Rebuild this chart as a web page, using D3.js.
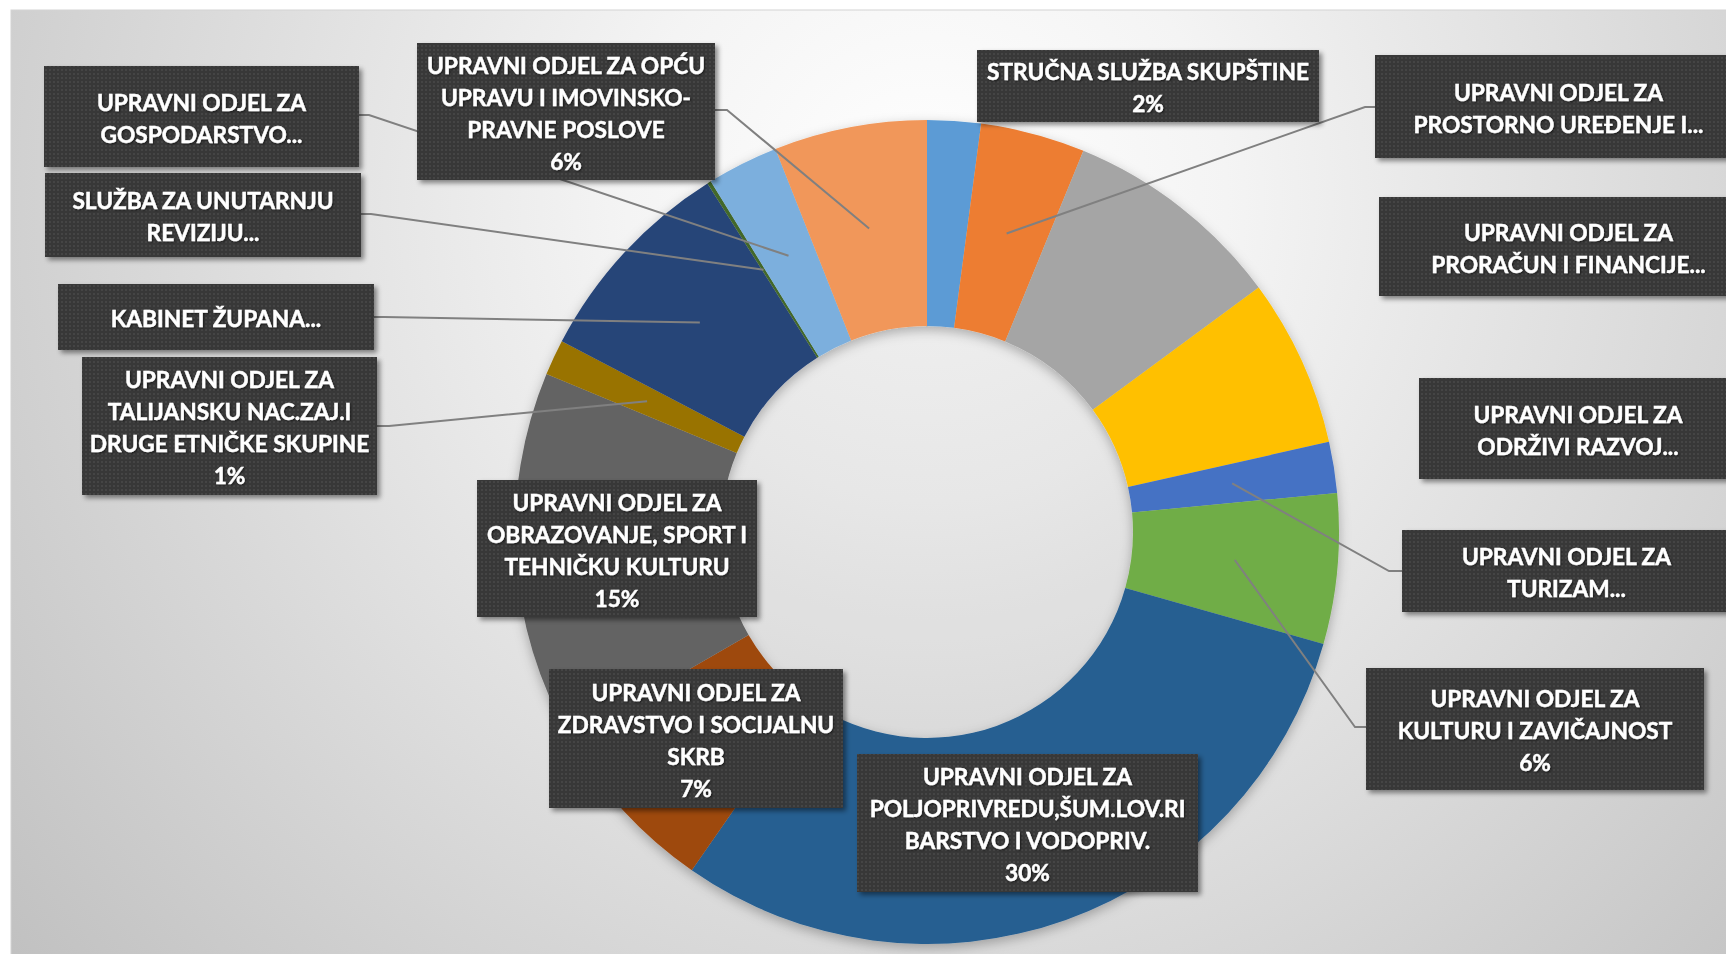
<!DOCTYPE html>
<html>
<head>
<meta charset="utf-8">
<script src="https://cdn.jsdelivr.net/npm/d3@7"></script>
<style>
  html, body { margin: 0; padding: 0; background: #ffffff; overflow: hidden; }
  svg { display: block; }
</style>
</head>
<body>
<svg id="chart" width="1726" height="954"></svg>
<script>
// ---------------- DATA ----------------
const categories = [
  "STRUČNA SLUŽBA SKUPŠTINE",
  "UPRAVNI ODJEL ZA PROSTORNO UREĐENJE I...",
  "UPRAVNI ODJEL ZA PRORAČUN I FINANCIJE...",
  "UPRAVNI ODJEL ZA ODRŽIVI RAZVOJ...",
  "UPRAVNI ODJEL ZA TURIZAM...",
  "UPRAVNI ODJEL ZA KULTURU I ZAVIČAJNOST",
  "UPRAVNI ODJEL ZA POLJOPRIVREDU,ŠUM.LOV.RIBARSTVO I VODOPRIV.",
  "UPRAVNI ODJEL ZA ZDRAVSTVO I SOCIJALNU SKRB",
  "UPRAVNI ODJEL ZA OBRAZOVANJE, SPORT I TEHNIČKU KULTURU",
  "UPRAVNI ODJEL ZA TALIJANSKU NAC.ZAJ.I DRUGE ETNIČKE SKUPINE",
  "KABINET ŽUPANA...",
  "SLUŽBA ZA UNUTARNJU REVIZIJU...",
  "UPRAVNI ODJEL ZA GOSPODARSTVO...",
  "UPRAVNI ODJEL ZA OPĆU UPRAVU I IMOVINSKO-PRAVNE POSLOVE"
];
// share of total (%)
const values = [2.1, 4.1, 8.7, 6.6, 2.0, 5.9, 30.3, 7.0, 14.6, 1.4, 8.4, 0.15, 2.8, 6.0];
// label text lines as they are wrapped in the picture
const labelLines = [
  ["STRUČNA SLUŽBA SKUPŠTINE"],
  ["UPRAVNI ODJEL ZA", "PROSTORNO UREĐENJE I..."],
  ["UPRAVNI ODJEL ZA", "PRORAČUN I FINANCIJE..."],
  ["UPRAVNI ODJEL ZA", "ODRŽIVI RAZVOJ..."],
  ["UPRAVNI ODJEL ZA", "TURIZAM..."],
  ["UPRAVNI ODJEL ZA", "KULTURU I ZAVIČAJNOST"],
  ["UPRAVNI ODJEL ZA", "POLJOPRIVREDU,ŠUM.LOV.RI", "BARSTVO I VODOPRIV."],
  ["UPRAVNI ODJEL ZA", "ZDRAVSTVO I SOCIJALNU", "SKRB"],
  ["UPRAVNI ODJEL ZA", "OBRAZOVANJE, SPORT I", "TEHNIČKU KULTURU"],
  ["UPRAVNI ODJEL ZA", "TALIJANSKU NAC.ZAJ.I", "DRUGE ETNIČKE SKUPINE"],
  ["KABINET ŽUPANA..."],
  ["SLUŽBA ZA UNUTARNJU", "REVIZIJU..."],
  ["UPRAVNI ODJEL ZA", "GOSPODARSTVO..."],
  ["UPRAVNI ODJEL ZA OPĆU", "UPRAVU I IMOVINSKO-", "PRAVNE POSLOVE"]
];
const showPercent = [true, false, false, false, false, true, true, true, true, true, false, false, false, true];

// ---------------- STYLE / LAYOUT ----------------
const colors = ["#5B9BD5", "#ED7D31", "#A5A5A5", "#FFC000", "#4472C4", "#70AD47",
                "#255E91", "#9E480E", "#636363", "#997300", "#264478", "#43682B",
                "#7CAFDD", "#F1975A"];
// label boxes: [x0, y0, x1, y1]
const boxes = [
  [977, 50, 1319, 122],
  [1375, 55, 1742, 158],
  [1379, 197, 1758, 296],
  [1419, 378, 1737, 479],
  [1402, 530, 1731, 612],
  [1366, 668, 1704, 790],
  [857, 754, 1198, 892],
  [549, 669, 843, 808],
  [477, 480, 757, 617],
  [82, 357, 377, 495],
  [58, 284, 374, 350],
  [45, 173, 361, 257],
  [44, 66, 359, 167],
  [417, 43, 715, 180]
];
// leader line anchors on the box edge: [x, y, stubDx] (null = no leader line)
const leaders = [
  null,
  [1375, 107, -10],
  null,
  null,
  [1402, 571, -13],
  [1366, 727, -11],
  null, null, null,
  [377, 426, 12],
  [374, 317, 10],
  [361, 214, 10],
  [359, 115, 10],
  [715, 110, 12]
];

const W = 1726, H = 954;
const cx = 927, cy = 532, rOuter = 412, rInner = 206;

const svg = d3.select("#chart");
const defs = svg.append("defs");

// background gradient
const bg = defs.append("radialGradient").attr("id", "bgGrad")
  .attr("gradientUnits", "userSpaceOnUse")
  .attr("cx", 927).attr("cy", 200).attr("r", 1200);
bg.append("stop").attr("offset", 0).attr("stop-color", "#ffffff");
bg.append("stop").attr("offset", 0.25).attr("stop-color", "#f4f4f4");
bg.append("stop").attr("offset", 1).attr("stop-color", "#c0c0c0");

// dotted texture for label boxes
const pat = defs.append("pattern").attr("id", "dots")
  .attr("width", 4).attr("height", 4).attr("patternUnits", "userSpaceOnUse");
pat.append("rect").attr("width", 4).attr("height", 4).attr("fill", "#383838");
pat.append("circle").attr("cx", 2).attr("cy", 2).attr("r", 0.9).attr("fill", "#4a4a4a");

const boxShadow = defs.append("filter").attr("id", "boxShadow")
  .attr("x", "-10%").attr("y", "-10%").attr("width", "130%").attr("height", "140%");
boxShadow.append("feDropShadow").attr("dx", 3).attr("dy", 3).attr("stdDeviation", 2.5)
  .attr("flood-color", "#000").attr("flood-opacity", 0.45);

const donutShadow = defs.append("filter").attr("id", "donutShadow")
  .attr("x", "-10%").attr("y", "-10%").attr("width", "120%").attr("height", "120%");
donutShadow.append("feDropShadow").attr("dx", 0).attr("dy", 4).attr("stdDeviation", 6)
  .attr("flood-color", "#000").attr("flood-opacity", 0.28);

const textShadow = defs.append("filter").attr("id", "textShadow")
  .attr("x", "-5%").attr("y", "-20%").attr("width", "110%").attr("height", "140%");
textShadow.append("feDropShadow").attr("dx", 1).attr("dy", 1).attr("stdDeviation", 1)
  .attr("flood-color", "#000").attr("flood-opacity", 0.6);

// chart area
svg.append("rect").attr("x", 11).attr("y", 10).attr("width", W).attr("height", H)
  .attr("fill", "url(#bgGrad)").attr("stroke", "#d4d4d4").attr("stroke-width", 1);

// donut
const total = d3.sum(values);
const pie = d3.pie().sort(null).value(d => d).startAngle(0).endAngle(2 * Math.PI);
const arcs = pie(values);
const arc = d3.arc().innerRadius(rInner).outerRadius(rOuter);

const g = svg.append("g").attr("transform", `translate(${cx},${cy})`);
// slightly grey hole
g.append("circle").attr("r", rInner).attr("fill", "#000").attr("fill-opacity", 0.05);
g.append("g").attr("filter", "url(#donutShadow)")
  .selectAll("path").data(arcs).enter().append("path")
  .attr("d", arc)
  .attr("fill", (d, i) => colors[i]);

// leader lines (beneath boxes)
const lineGen = d3.line();
arcs.forEach((d, i) => {
  const L = leaders[i];
  if (!L) return;
  const c = arc.centroid(d);
  const pts = [[cx + c[0], cy + c[1]], [L[0] + L[2], L[1]], [L[0], L[1]]];
  svg.append("path").attr("d", lineGen(pts))
    .attr("fill", "none").attr("stroke", "#808080").attr("stroke-width", 2);
});

// label boxes
const fmt = d3.format(".0%");
const fontFamily = "Lato, 'Open Sans', sans-serif";
const lineH = 32;

// size font so that the widest reference line matches its measured width
const probe = svg.append("text").attr("font-family", fontFamily).attr("font-weight", 700)
  .attr("font-size", 21).text("STRUČNA SLUŽBA SKUPŠTINE");
const pw = probe.node().getComputedTextLength();
probe.remove();
const fontSize = Math.max(18, Math.min(24, 21 * 322 / pw));

const labelsG = svg.append("g");
arcs.forEach((d, i) => {
  const b = boxes[i];
  labelsG.append("rect")
    .attr("x", b[0]).attr("y", b[1]).attr("width", b[2] - b[0]).attr("height", b[3] - b[1])
    .attr("fill", "url(#dots)").attr("filter", "url(#boxShadow)");
  const lines = labelLines[i].slice();
  if (showPercent[i]) lines.push(fmt(values[i] / total));
  const mx = (b[0] + b[2]) / 2, my = (b[1] + b[3]) / 2 + 1.5;
  const y0 = my - (lines.length - 1) * lineH / 2;
  const t = labelsG.append("text")
    .attr("font-family", fontFamily).attr("font-weight", 700).attr("font-size", fontSize)
    .attr("fill", "#ffffff").attr("stroke", "#ffffff").attr("stroke-width", 0.4)
    .attr("text-anchor", "middle")
    .attr("filter", "url(#textShadow)");
  lines.forEach((s, k) => {
    t.append("tspan").attr("x", mx).attr("y", y0 + k * lineH)
      .attr("dominant-baseline", "central").text(s);
  });
});
</script>
</body>
</html>
